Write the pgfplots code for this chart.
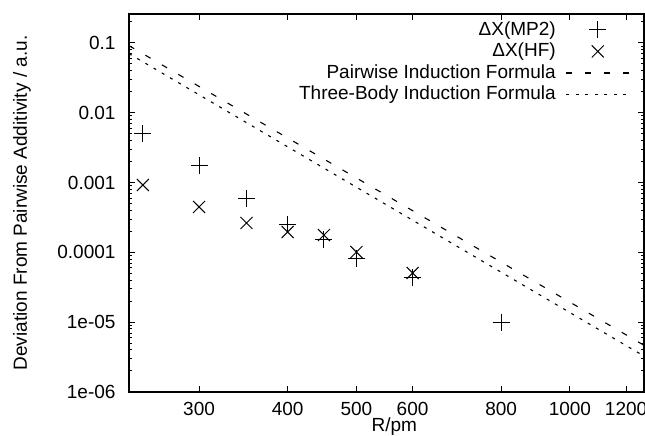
\documentclass[border=0pt]{standalone}
\usepackage{pgfplots}
\pgfplotsset{compat=1.18}
\usepackage{fontspec}
\setmainfont{Liberation Sans}
\begin{document}
\fontsize{19bp}{23bp}\selectfont
\begin{tikzpicture}[font=\fontsize{19bp}{23bp}\selectfont]
\useasboundingbox (-129bp,-44bp) rectangle (516bp,392bp);
\begin{loglogaxis}[
  at={(0,0)}, anchor=south west,
  scale only axis, width=515bp, height=378bp,
  xmin=239, xmax=1272, ymin=1e-6, ymax=0.26,
  xtick={300,400,500,600,800,1000,1200},
  xticklabels={300,400,500,600,800,1000,1200},
  minor xtick={},
  ytick={1e-6,1e-5,1e-4,1e-3,1e-2,1e-1},
  yticklabels={1e-06,1e-05,0.0001,0.001,0.01,0.1},
  minor ytick={2e-6,3e-6,4e-6,5e-6,6e-6,7e-6,8e-6,9e-6,
               2e-5,3e-5,4e-5,5e-5,6e-5,7e-5,8e-5,9e-5,
               2e-4,3e-4,4e-4,5e-4,6e-4,7e-4,8e-4,9e-4,
               2e-3,3e-3,4e-3,5e-3,6e-3,7e-3,8e-3,9e-3,
               2e-2,3e-2,4e-2,5e-2,6e-2,7e-2,8e-2,9e-2,0.2},
  /pgf/number format/assume math mode=true,
  tick align=inside,
  major tick length=6bp, minor tick length=3bp,
  axis line style={line width=1.5bp},
  every tick/.style={black, line width=1bp},
  xticklabel style={inner sep=1bp, yshift=-9bp},
  yticklabel style={xshift=-7bp},
  xlabel={R/pm},
  ylabel={Deviation From Pairwise Additivity / a.u.},
  every axis x label/.style={at={(axis description cs:0.515,-0.0926)}, anchor=center, inner sep=1bp},
  every axis y label/.style={at={(axis description cs:-0.2078,0.5)}, anchor=center, rotate=90},
  legend cell align=right,
  legend plot pos=right,
  legend style={draw=none, fill=none, at={(axis description cs:1,1)}, anchor=north east,
    xshift=-14bp, yshift=-5bp, inner sep=0pt, row sep=0bp, column sep=8bp,
    nodes={inner sep=2bp, text height=14bp, text depth=3.5bp}},
  legend image code/.code={\draw[mark repeat=2,mark phase=2,#1] plot coordinates {(0bp,0bp) (31.5bp,0bp) (63bp,0bp)};},
]
\addplot[black, only marks, mark=+, mark size=8.5bp, line width=1bp] coordinates {
  (250,0.00497) (300,0.00173) (350,0.000582) (400,0.000247)
  (450,0.000151) (500,8.3e-5) (600,4.3e-5) (800,1.0e-5)};
\addlegendentry{ΔX(MP2)}
\addplot[black, only marks, mark=x, mark size=8.5bp, line width=1bp] coordinates {
  (250,0.000925) (300,0.000447) (350,0.000264) (400,0.000196)
  (450,0.000177) (500,0.000101) (600,5.07e-5)};
\addlegendentry{ΔX(HF)}
\addplot[black, line width=1.1bp, dash pattern=on 6bp off 13bp] coordinates {
  (239,0.0914) (1272,4.67e-6)};
\addlegendentry{Pairwise Induction Formula}
\addplot[black, line width=1.1bp, dash pattern=on 3bp off 6.5bp] coordinates {
  (239,0.0703) (1272,3.27e-6)};
\addlegendentry{Three-Body Induction Formula}
\end{loglogaxis}
\end{tikzpicture}
\end{document}
